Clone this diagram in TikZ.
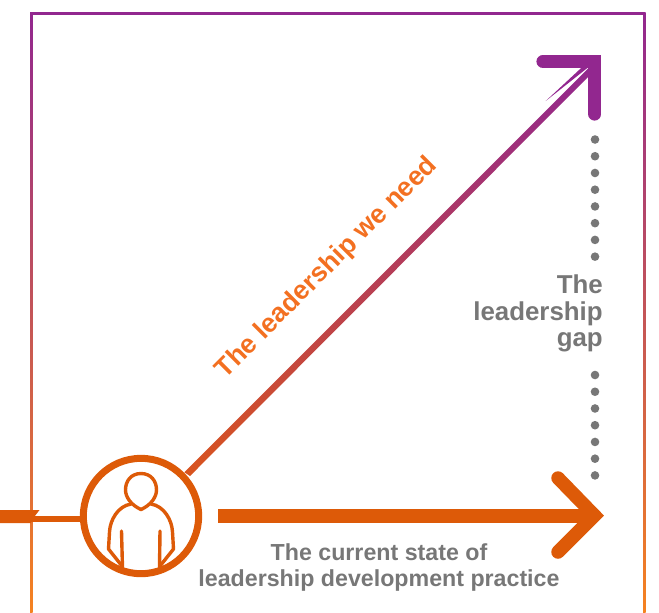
\documentclass[tikz,border=0pt]{standalone}
\usepackage{fontspec}
\setmainfont{Liberation Sans}
\definecolor{pur}{HTML}{92278F}
\definecolor{ora}{HTML}{F58220}
\definecolor{dor}{HTML}{DD5A08}
\definecolor{dmid}{HTML}{D9541E}
\definecolor{gry}{HTML}{777777}
\definecolor{lab}{HTML}{F37021}
\tikzset{
  px/.style={line width=#1*0.75pt},
  lbl/.style={font=\bfseries\fontsize{17.4pt}{19.6pt}\selectfont, text=gry, inner sep=0pt, align=center},
  gaplbl/.style={font=\bfseries\fontsize{19.4pt}{19.8pt}\selectfont, text=gry, inner sep=0pt, align=right},
  needlbl/.style={font=\bfseries\fontsize{20pt}{24pt}\selectfont, text=lab, inner sep=0pt},
  icon/.style={draw=dor, px=3.4, line join=round, line cap=round},
}
\begin{document}
\begin{tikzpicture}[x=0.75pt,y=-0.75pt]
\useasboundingbox (0,0) rectangle (659,612);
% frame
\fill[pur] (30,12) rectangle (645,15);
\shade[top color=pur,bottom color=ora] (30,12) rectangle (32.5,612);
\shade[top color=pur,bottom color=ora] (643,12) rectangle (645.5,612);
% person node
\node[circle,draw=dor,px=7,minimum size=86.5pt,inner sep=0pt,outer sep=0pt,fill=none] (c) at (141,516) {};
% stub at the left
\fill[dor] (0,510) -- (39.5,510) -- (31,521) -- (31,523) -- (0,523) -- cycle;
\coordinate (stubA) at (31,519);
\draw[dor,px=6] (stubA) -- (c.west |- stubA);
% icon
\draw[icon] (141,473.5) .. controls (131,473.5) and (125.5,481) .. (125.5,490)
  .. controls (125.5,497) and (131,505) .. (141,509.5)
  .. controls (151,505) and (156.5,497) .. (156.5,490)
  .. controls (156.5,481) and (151,473.5) .. (141,473.5) -- cycle;
\draw[icon] (131,504) .. controls (118,506) and (110,520) .. (109.5,532)
  -- (108.5,549) -- (122,566);
\draw[icon] (151,504) .. controls (164,506) and (172,520) .. (172.5,532)
  -- (173.5,549) -- (160,566);
\draw[icon] (121.5,531) -- (122.5,568);
\draw[icon] (160,531) -- (159.5,568);
% diagonal arrow
\coordinate (d1) at (184.3,472.3);
\coordinate (d2) at (588,68.5);
\coordinate (d3) at (588,77);
\coordinate (d4) at (190,476);
\shade[top color=pur,bottom color=dmid] (d1) -- (d2) -- (d3) -- (d4) -- cycle;
\draw[pur,px=13.2,line cap=round,miter limit=10] (543,61.5) -- (594.7,61.5) -- (594.7,114);
\fill[pur] (545.7,101) -- (581.7,67.5) -- (588,67.5) -- cycle;
% horizontal arrow
\coordinate (h1) at (218,516);
\coordinate (h2) at (597,516);
\draw[dor,px=14] (h1) -- (h2);
\draw[dor,px=13.5,line cap=round,miter limit=10] (558,478) -- (594.5,515.5) -- (558,552);
% dotted gap
\coordinate (g1) at (595,139.5);
\coordinate (g2) at (595,258);
\coordinate (g3) at (595,375);
\coordinate (g4) at (595,477);
\draw[gry,px=8.6,line cap=round,dash pattern=on 0pt off 12.55pt] (g1) -- (g2);
\draw[gry,px=8.6,line cap=round,dash pattern=on 0pt off 12.55pt] (g3) -- (g4);
% labels
\node[gaplbl,anchor=east] (gap) at (603,313.5) {The\\leadership\\gap};
\node[lbl] (cur) at (379,567.5) {The current state of\\leadership development practice};
\node[needlbl,rotate=45] (need) at (327,268) {The leadership we need};
\end{tikzpicture}
\end{document}
